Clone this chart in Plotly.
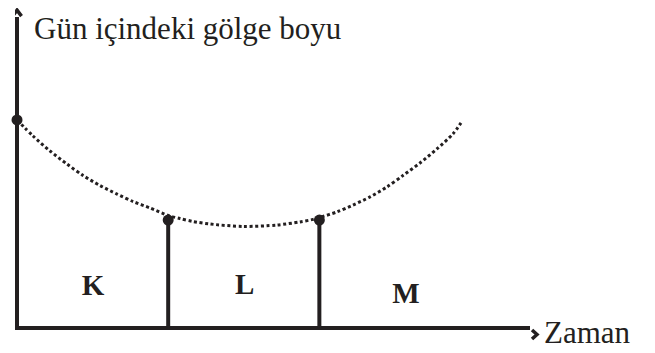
import plotly.graph_objects as go

# Shadow length during the day (time in arbitrary units, length in arbitrary units)
curve_time = [0.0, 0.317, 0.655, 0.992, 1.31, 1.647, 1.984, 2.302, 2.639, 3.0,
              3.234, 3.492, 3.829, 4.484, 5.159, 5.615, 5.873, 6.0, 6.349, 6.667,
              7.004, 7.341, 7.659, 7.996, 8.333, 8.651, 8.81]
curve_length = [10.0, 9.23, 8.51, 7.88, 7.33, 6.85, 6.44, 6.08, 5.77, 5.41,
                5.26, 5.12, 5.00, 4.88, 4.95, 5.10, 5.22, 5.31, 5.58, 5.91,
                6.30, 6.78, 7.33, 7.93, 8.61, 9.33, 9.86]

point_time = [0.0, 3.0, 6.0]
point_length = [10.0, 5.19, 5.19]

region_labels = ["K", "L", "M"]
label_time = [1.51, 4.52, 7.72]
label_length = [1.92, 1.97, 1.54]

y_title = "Gün içindeki gölge boyu"
x_title = "Zaman"

INK = "#231f20"
SERIF = "Liberation Serif, Times New Roman, serif"

fig = go.Figure()

fig.add_trace(go.Scatter(
    x=curve_time, y=curve_length, mode="lines",
    line=dict(color=INK, width=3, dash="3px,2.6px", shape="spline", smoothing=0.8),
    hoverinfo="skip", showlegend=False,
))

for t, s in zip(point_time[1:], point_length[1:]):
    fig.add_trace(go.Scatter(
        x=[t, t], y=[0, s], mode="lines",
        line=dict(color=INK, width=4), hoverinfo="skip", showlegend=False,
    ))

fig.add_trace(go.Scatter(
    x=point_time, y=point_length, mode="markers",
    marker=dict(color=INK, size=11), cliponaxis=False,
    hoverinfo="skip", showlegend=False,
))

fig.add_trace(go.Scatter(
    x=label_time, y=label_length, mode="text", text=region_labels,
    textfont=dict(family=SERIF, size=29, color=INK, weight="bold"),
    hoverinfo="skip", showlegend=False,
))

# arrowheads (chevrons) at the ends of the axes
fig.add_shape(type="path", xref="x", yref="paper", xsizemode="pixel", ysizemode="pixel",
              xanchor=0, yanchor=1.022, path="M-4.5,-6 L0,0 L4.5,-6",
              line=dict(color=INK, width=3.5))
fig.add_shape(type="path", xref="paper", yref="paper", xsizemode="pixel", ysizemode="pixel",
              xanchor=1.0136, yanchor=-0.0144, path="M-5,4.5 L0,0 L-5,-4.5",
              line=dict(color=INK, width=3.5))

fig.add_annotation(x=0.033, xref="paper", y=0.962, yref="paper", text=y_title,
                   showarrow=False, xanchor="left", yanchor="middle",
                   font=dict(family=SERIF, size=31, color=INK))
fig.add_annotation(x=1.0233, xref="paper", y=-0.008, yref="paper", text=x_title,
                   showarrow=False, xanchor="left", yanchor="middle",
                   font=dict(family=SERIF, size=31, color=INK))

fig.update_xaxes(range=[-0.04, 10.18], showgrid=False, ticks="", showticklabels=False,
                 zeroline=True, zerolinecolor=INK, zerolinewidth=4, showline=False)
fig.update_yaxes(range=[-0.096, 14.95], showgrid=False, ticks="", showticklabels=False,
                 zeroline=True, zerolinecolor=INK, zerolinewidth=4, showline=False)

fig.update_layout(
    width=647, height=345, autosize=False,
    margin=dict(l=7, r=125, t=9, b=23),
    paper_bgcolor="white", plot_bgcolor="white",
    showlegend=False,
)

fig.write_html("out.html")
